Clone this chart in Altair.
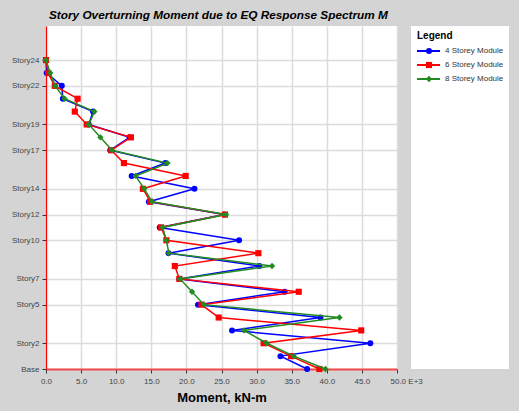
import altair as alt
import pandas as pd

# ---- data (values in thousands of kN-m, storey index 0 = Base ... 24 = Story24) ----
stories = list(range(25))
moment_4 = [37.2, 33.4, 46.2, 26.5, 39.1, 21.65, 34.0, 19.0, 30.4, 17.45, 27.5, 16.2, 25.4,
            14.65, 21.15, 12.2, 17.0, 9.15, 11.9, 6.1, 6.7, 2.4, 2.25, 0.1, 0.0]
moment_6 = [38.95, 34.9, 31.0, 44.9, 24.6, 22.15, 36.0, 19.0, 18.35, 30.25, 17.15, 16.4, 25.5,
            14.85, 13.8, 19.9, 11.1, 9.3, 12.1, 5.8, 4.1, 4.5, 1.25, 0.3, 0.0]
moment_8 = [39.8, 35.3, 31.45, 28.2, 41.8, 22.5, 20.8, 19.1, 32.2, 17.5, 17.15, 16.6, 25.65,
            15.1, 14.0, 12.75, 17.3, 9.4, 7.75, 6.1, 6.9, 2.65, 1.3, 0.6, 0.0]

series_names = ["4 Storey Module", "6 Storey Module", "8 Storey Module"]
series_colors = ["#0000FF", "#FF0000", "#228B22"]
series_shapes = ["circle", "square", "diamond"]
series_sizes = [36, 40, 34]

y_tick_values = [0, 2, 5, 7, 10, 12, 14, 17, 19, 22, 24]
y_tick_labels = ["Base", "Story2", "Story5", "Story7", "Story10", "Story12", "Story14",
                 "Story17", "Story19", "Story22", "Story24"]
x_tick_values = [0, 5, 10, 15, 20, 25, 30, 35, 40, 45, 50]

rows = []
for name, vals in zip(series_names, [moment_4, moment_6, moment_8]):
    for s, v in zip(stories, vals):
        rows.append({"series": name, "story": s, "moment": v})
df = pd.DataFrame(rows)
legend_df = pd.DataFrame({"series": series_names, "row": list(range(len(series_names)))})

FONT = "Liberation Sans"
W, H = 351, 343

label_expr = ""
for v, l in zip(y_tick_values, y_tick_labels):
    label_expr += f"datum.value == {v} ? '{l}' : "
label_expr += "''"

x_enc = alt.X("moment:Q",
              scale=alt.Scale(domain=[0, 50], nice=False, zero=True),
              axis=alt.Axis(values=x_tick_values, format=".1f", title="Moment, kN-m",
                            labelExpr="datum.value == 50 ? '50.0 E+3' : format(datum.value, '.1f')",
                            labelAlign={"condition": {"test": "datum.value == 50", "value": "left"}, "value": "center"},
                            labelOffset={"condition": {"test": "datum.value == 50", "value": -7}, "value": 0},
                            domainColor="#F04848", domainWidth=2,
                            labelFont=FONT, labelFontSize=8, labelColor="#444444", labelPadding=4,
                            tickColor="#333333", tickSize=4,
                            gridColor="#DCDCDC", gridWidth=1.5,
                            titleFont=FONT, titleFontSize=13, titleFontWeight="bold",
                            titleColor="black", titlePadding=6))
y_enc = alt.Y("story:Q",
              scale=alt.Scale(domain=[0, 26.65], nice=False, zero=False),
              axis=alt.Axis(values=y_tick_values, labelExpr=label_expr, title=None,
                            domainColor="#FF0000", domainWidth=1.2,
                            labelFont=FONT, labelFontSize=8, labelColor="#444444", labelPadding=3,
                            tickColor="#333333", tickSize=4,
                            gridColor="#DCDCDC", gridWidth=1.5))
color_enc = alt.Color("series:N", scale=alt.Scale(domain=series_names, range=series_colors),
                      legend=None)
shape_enc = alt.Shape("series:N", scale=alt.Scale(domain=series_names, range=series_shapes),
                      legend=None)
size_enc = alt.Size("series:N", scale=alt.Scale(domain=series_names, range=series_sizes),
                    legend=None)

# white legend panel on the right
panel = alt.Chart(pd.DataFrame({"a": [0]})).mark_rect(color="white").encode(
    x=alt.value(365), x2=alt.value(463), y=alt.value(0), y2=alt.value(H))

layers = [panel]
for name in series_names:
    base = alt.Chart(df).transform_filter(alt.datum.series == name)
    layers.append(base.mark_line(strokeWidth=1.5).encode(
        x=x_enc, y=y_enc, color=color_enc, order=alt.Order("story:Q")))
    layers.append(base.mark_point(filled=True, opacity=1).encode(
        x=x_enc, y=y_enc, color=color_enc, shape=shape_enc, size=size_enc))

# legend (drawn as marks inside the white panel)
leg = alt.Chart(legend_df).transform_calculate(ly="25 + 14 * datum.row")
leg_y = alt.Y("ly:Q", scale=None)
legend_title = alt.Chart(pd.DataFrame({"t": ["Legend"]})).mark_text(
    align="left", baseline="middle", font=FONT, fontSize=10, fontWeight="bold", color="black"
).encode(x=alt.value(371), y=alt.value(10), text="t:N")
leg_rule = leg.mark_rule(strokeWidth=2).encode(
    x=alt.value(371), x2=alt.value(394), y=leg_y, color=color_enc)
leg_pt = leg.mark_point(filled=True, opacity=1).encode(
    x=alt.value(383), y=leg_y, color=color_enc, shape=shape_enc, size=size_enc)
leg_txt = leg.mark_text(align="left", baseline="middle", font=FONT, fontSize=8,
                        color="#333333").encode(x=alt.value(399), y=leg_y, text="series:N")
layers += [legend_title, leg_rule, leg_pt, leg_txt]

chart = alt.layer(*layers).properties(
    width=W, height=H,
    autosize=alt.AutoSizeParams(type="none"),
    padding={"left": 46, "top": 26, "right": 122, "bottom": 42},
    background="#D4D4D4",
    title=alt.TitleParams(
        "Story Overturning Moment due to EQ Response Spectrum M",
        font=FONT, fontSize=11.8, fontWeight="bold", fontStyle="italic", color="black",
        anchor="start", frame="group", offset=4, dx=3),
).configure_view(
    fill="white", strokeWidth=0
)

chart.save("out.html", embed_options={"renderer": "svg", "actions": False})
